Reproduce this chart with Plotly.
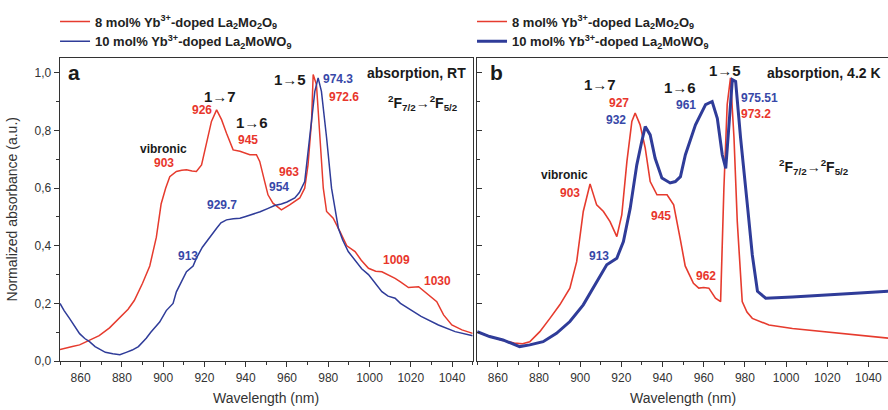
import plotly.graph_objects as go

# ---------------- data ----------------
# Panel a (RT) - 8 mol% Yb3+-doped La2Mo2O9 (red)
wl_a_red = [850, 853, 856, 859.5, 864, 869, 874, 879, 883, 886, 890, 893.5, 896.7, 899, 901.2,
            903.2, 906.4, 909, 911.3, 914, 916.1, 918.6, 921, 923.4, 925.9, 928.3, 930.7, 933.9,
            937.2, 940, 942, 945.2, 946.8, 949.2, 950.8, 953.2, 957.3, 961.3, 966.2, 968.6, 970.2,
            971.9, 972.7, 974.3, 975.9, 977.6, 979.2, 982.4, 985.7, 989, 993, 996, 999.5, 1003,
            1006, 1009, 1012.4, 1015, 1018.9, 1023.8, 1026, 1028.6, 1032.6, 1035.9, 1039.9,
            1044.8, 1050]
abs_a_red = [0.040, 0.044, 0.050, 0.056, 0.070, 0.088, 0.115, 0.150, 0.180, 0.210, 0.270, 0.330,
             0.430, 0.545, 0.600, 0.640, 0.658, 0.662, 0.664, 0.660, 0.658, 0.681, 0.762, 0.832,
             0.872, 0.838, 0.791, 0.733, 0.728, 0.722, 0.716, 0.716, 0.693, 0.623, 0.577, 0.548,
             0.525, 0.542, 0.566, 0.600, 0.681, 0.832, 0.995, 0.959, 0.774, 0.600, 0.519, 0.496,
             0.449, 0.400, 0.380, 0.350, 0.322, 0.312, 0.310, 0.300, 0.287, 0.275, 0.255, 0.258,
             0.245, 0.229, 0.206, 0.160, 0.125, 0.108, 0.096]

# Panel a (RT) - 10 mol% Yb3+-doped La2MoWO9 (blue)
wl_a_blue = [850, 852, 854.6, 857, 859.5, 862, 864.3, 867, 869.2, 872, 875.6, 879, 882.1, 885, 888,
             891.8, 894, 896.7, 898.3, 901.5, 904.8, 906.4, 909, 911.3, 914.5, 916.1, 919, 921,
             923.5, 925.9, 928, 930.7, 934, 937.2, 940, 943.6, 947, 950.9, 954, 957.3, 960, 963.8,
             966, 968.6, 971.1, 973.5, 975.1, 976.7, 979.2, 981.6, 984.9, 987, 989.7, 993, 996.2,
             999.5, 1003, 1006, 1009, 1012.4, 1015, 1018.9, 1025, 1033.4, 1041.5, 1050]
abs_a_blue = [0.200, 0.175, 0.148, 0.120, 0.095, 0.078, 0.067, 0.050, 0.040, 0.030, 0.025, 0.022,
              0.030, 0.038, 0.050, 0.079, 0.100, 0.120, 0.135, 0.175, 0.200, 0.240, 0.280, 0.310,
              0.330, 0.357, 0.395, 0.415, 0.440, 0.461, 0.480, 0.490, 0.494, 0.496, 0.502, 0.510,
              0.518, 0.530, 0.540, 0.545, 0.552, 0.566, 0.585, 0.623, 0.775, 0.936, 0.983, 0.936,
              0.775, 0.600, 0.461, 0.420, 0.380, 0.350, 0.320, 0.300, 0.268, 0.241, 0.225, 0.218,
              0.200, 0.183, 0.155, 0.125, 0.102, 0.088]

# Panel b (4.2 K) - 8 mol% Yb3+-doped La2Mo2O9 (red)
wl_b_red = [850, 856, 862, 868, 872, 875.5, 880.4, 885.3, 890.1, 895, 898.3, 901.5, 904.8, 908,
            911.3, 914.5, 917.8, 920.2, 922.7, 925.1, 926.7, 929.1, 931.6, 934, 937.3, 942.2,
            945.4, 948.7, 951, 953, 955, 957.6, 960, 962.5, 965.7, 968.2, 969.8, 971.4, 973,
            974.7, 976.3, 978.7, 981, 983.6, 991.7, 1003.1, 1019.4, 1035.7, 1050]
abs_b_red = [0.100, 0.085, 0.072, 0.062, 0.060, 0.067, 0.102, 0.148, 0.195, 0.253, 0.345, 0.519,
             0.615, 0.542, 0.519, 0.484, 0.432, 0.507, 0.693, 0.832, 0.861, 0.820, 0.739, 0.623,
             0.577, 0.577, 0.542, 0.420, 0.330, 0.300, 0.270, 0.253, 0.255, 0.253, 0.218, 0.206,
             0.600, 0.890, 0.983, 0.775, 0.484, 0.206, 0.170, 0.148, 0.125, 0.113, 0.102, 0.090,
             0.079]

# Panel b (4.2 K) - 10 mol% Yb3+-doped La2MoWO9 (blue)
wl_b_blue = [850, 856, 862.5, 870.6, 875.5, 882, 888.5, 895, 901.5, 908, 912.9, 917.8, 921, 924.3,
             927.5, 929.9, 931.6, 934, 936.4, 939.7, 943.7, 946.2, 948.7, 951.1, 956, 960.9,
             964.1, 966.6, 969, 970.7, 972.3, 973.9, 975.5, 977.9, 981.2, 983.6, 986.1, 990.1,
             1003.1, 1019.4, 1035.7, 1050]
abs_b_blue = [0.102, 0.085, 0.073, 0.050, 0.056, 0.067, 0.096, 0.137, 0.195, 0.276, 0.334, 0.357,
              0.415, 0.530, 0.681, 0.762, 0.814, 0.785, 0.704, 0.635, 0.618, 0.623, 0.640, 0.716,
              0.820, 0.890, 0.901, 0.843, 0.716, 0.669, 0.832, 0.977, 0.971, 0.775, 0.542, 0.368,
              0.242, 0.218, 0.222, 0.230, 0.236, 0.242]

series_names = ["8 mol% Yb<sup>3+</sup>-doped La<sub>2</sub>Mo<sub>2</sub>O<sub>9</sub>",
                "10 mol% Yb<sup>3+</sup>-doped La<sub>2</sub>MoWO<sub>9</sub>"]

x_tickvals = [860, 880, 900, 920, 940, 960, 980, 1000, 1020, 1040]
x_ticktext = ["860", "880", "900", "920", "940", "960", "980", "1000", "1020", "1040"]
y_tickvals = [0.0, 0.2, 0.4, 0.6, 0.8, 1.0]
y_ticktext = ["0,0", "0,2", "0,4", "0,6", "0,8", "1,0"]

# panel a labels: (text, wavelength, absorbance, colour key, size)
labels_a = [
    ("1→7", 927.4, 0.918, "k", 15), ("926", 918.7, 0.872, "r", 12),
    ("1→6", 943.0, 0.828, "k", 15), ("945", 940.9, 0.767, "r", 12),
    ("vibronic", 900.4, 0.736, "k", 12), ("903", 900.4, 0.689, "r", 12),
    ("963", 961.1, 0.655, "r", 12), ("954", 956.2, 0.604, "b", 12),
    ("929.7", 928.7, 0.542, "b", 12), ("913", 912.0, 0.363, "b", 12),
    ("1→5", 961.7, 0.977, "k", 15), ("974.3", 984.9, 0.980, "b", 12),
    ("972.6", 987.6, 0.917, "r", 12), ("1009", 1013.2, 0.349, "r", 12),
    ("1030", 1032.9, 0.279, "r", 12),
]
labels_b = [
    ("1→7", 909.7, 0.959, "k", 15), ("927", 918.9, 0.896, "r", 12),
    ("932", 917.3, 0.837, "b", 12), ("1→6", 948.7, 0.950, "k", 15),
    ("961", 951.6, 0.890, "b", 12), ("1→5", 970.1, 1.008, "k", 15),
    ("975.51", 986.9, 0.913, "b", 12), ("973.2", 985.3, 0.857, "r", 12),
    ("vibronic", 892.6, 0.647, "k", 12), ("903", 895.0, 0.583, "r", 12),
    ("945", 939.4, 0.504, "r", 12), ("913", 909.3, 0.363, "b", 12),
    ("962", 960.9, 0.296, "r", 12),
]

# ---------------- styling ----------------
RED = "#e63b2e"
BLUE = "#2f3c99"
LRED = "#e8362c"
LBLUE = "#3848a8"
BLACK = "#1a1a1a"
AX = "#333333"
FONT = "Liberation Sans, Arial, sans-serif"
ARROWFONT = "Liberation Sans, DejaVu Sans, sans-serif"
colmap = {"r": LRED, "b": LBLUE, "k": BLACK}

fig = go.Figure()
fig.add_trace(go.Scatter(x=wl_a_red, y=abs_a_red, mode="lines", name=series_names[0],
                         line=dict(color=RED, width=1.5), xaxis="x", yaxis="y", legend="legend"))
fig.add_trace(go.Scatter(x=wl_a_blue, y=abs_a_blue, mode="lines", name=series_names[1],
                         line=dict(color=BLUE, width=1.5), xaxis="x", yaxis="y", legend="legend"))
fig.add_trace(go.Scatter(x=wl_b_red, y=abs_b_red, mode="lines", name=series_names[0],
                         line=dict(color=RED, width=1.6), xaxis="x2", yaxis="y2", legend="legend2"))
fig.add_trace(go.Scatter(x=wl_b_blue, y=abs_b_blue, mode="lines", name=series_names[1],
                         line=dict(color=BLUE, width=3), xaxis="x2", yaxis="y2", legend="legend2"))

YR = [0, 1.052]
XRA = [850, 1050]
XRB = [850, 1049.5]

def xax(domain, rng, anchor, labels=True):
    return dict(domain=domain, range=rng, anchor=anchor, showgrid=False, zeroline=False,
                showline=True, linecolor=AX, linewidth=1.3, mirror=True,
                ticks="outside", ticklen=5, tickwidth=1, tickcolor=AX,
                tickvals=x_tickvals, ticktext=x_ticktext, showticklabels=labels,
                tickfont=dict(family=FONT, size=12, color="#333"),
                minor=dict(ticks="outside", ticklen=3, tickcolor=AX, dtick=10, tick0=850))

def yax(domain, anchor, labels=True, ticks="outside"):
    return dict(domain=domain, range=YR, anchor=anchor, showgrid=False, zeroline=False,
                showline=True, linecolor=AX, linewidth=1.3, mirror=True,
                ticks=ticks, ticklen=5, tickwidth=1, tickcolor=AX,
                tickvals=y_tickvals, ticktext=y_ticktext, showticklabels=labels,
                tickfont=dict(family=FONT, size=12, color="#333"),
                minor=dict(ticks=ticks, ticklen=3, tickcolor=AX, dtick=0.1, tick0=0))

DA = [0, 0.4984]
DB = [0.5039, 1.0]

fig.update_layout(
    width=888, height=410,
    margin=dict(l=60, r=0, t=58, b=49, autoexpand=False),
    paper_bgcolor="white", plot_bgcolor="white",
    font=dict(family=FONT, color="#222"),
    hovermode=False,
    xaxis=xax(DA, XRA, "y"),
    yaxis=yax([0, 1], "x"),
    xaxis2=xax(DB, XRB, "y2"),
    yaxis2=yax([0, 1], "x2", labels=False, ticks="inside"),
    # inward mirror ticks on the top / right borders
    xaxis3=dict(overlaying="x", side="top", anchor="y", range=XRA, showgrid=False, zeroline=False,
                showline=False, ticks="inside", ticklen=5, tickcolor=AX, tickvals=x_tickvals,
                showticklabels=False,
                minor=dict(ticks="inside", ticklen=3, tickcolor=AX, dtick=10, tick0=850)),
    yaxis3=dict(overlaying="y", side="right", anchor="x", range=YR, showgrid=False, zeroline=False,
                showline=False, ticks="inside", ticklen=5, tickcolor=AX, tickvals=y_tickvals,
                showticklabels=False,
                minor=dict(ticks="inside", ticklen=3, tickcolor=AX, dtick=0.1, tick0=0)),
    xaxis4=dict(overlaying="x2", side="top", anchor="y2", range=XRB, showgrid=False, zeroline=False,
                showline=False, ticks="inside", ticklen=5, tickcolor=AX, tickvals=x_tickvals,
                showticklabels=False,
                minor=dict(ticks="inside", ticklen=3, tickcolor=AX, dtick=10, tick0=850)),
    legend=dict(x=-0.006, y=1.17, xanchor="left", yanchor="top", bgcolor="rgba(0,0,0,0)",
                font=dict(family=FONT, size=13, color="#222", weight="bold"),
                tracegroupgap=0, itemwidth=30),
    legend2=dict(x=0.4976, y=1.17, xanchor="left", yanchor="top", bgcolor="rgba(0,0,0,0)",
                 font=dict(family=FONT, size=13, color="#222", weight="bold"),
                 tracegroupgap=0, itemwidth=30),
    showlegend=True,
)

def lab(txt, xv, yv, xr, yr, size, color, family=FONT, **kw):
    d = dict(text=txt, x=xv, y=yv, xref=xr, yref=yr, showarrow=False,
             xanchor="center", yanchor="middle",
             font=dict(family=family, size=size, color=color))
    d.update(kw)
    return d

ann = []
for txt, xv, yv, c, s in labels_a:
    ann.append(lab(f"<b>{txt}</b>", xv, yv, "x", "y", s, colmap[c],
                   ARROWFONT if "→" in txt else FONT))
for txt, xv, yv, c, s in labels_b:
    ann.append(lab(f"<b>{txt}</b>", xv, yv, "x2", "y2", s, colmap[c],
                   ARROWFONT if "→" in txt else FONT))

FTXT = "<b><sup>2</sup>F<sub>7/2</sub>→<sup>2</sup>F<sub>5/2</sub></b>"
ann += [
    lab("<b>a</b>", 857, 1.0, "x", "y", 21, BLACK),
    lab("<b>b</b>", 859.3, 1.003, "x2", "y2", 21, BLACK),
    lab("<b>absorption, RT</b>", 1022.9, 1.0, "x", "y", 14, BLACK),
    lab("<b>absorption, 4.2 K</b>", 1018.6, 1.0, "x2", "y2", 14, BLACK),
    lab(FTXT, 1025.8, 0.896, "x", "y", 14, BLACK, ARROWFONT),
    lab(FTXT, 1013.7, 0.675, "x2", "y2", 14, BLACK, ARROWFONT),
    # axis titles
    lab("Wavelength (nm)", 0.5, -0.122, "x domain", "paper", 14, "#333"),
    lab("Wavelength (nm)", 0.5, -0.122, "x2 domain", "paper", 14, "#333"),
    lab("Normalized absorbance (a.u.)", -0.058, 0.5, "paper", "paper", 14, "#333", textangle=-90),
]
fig.update_layout(annotations=ann)

fig.write_html("out.html", config={"displayModeBar": False, "staticPlot": True},
               post_script="document.body.style.margin='0';document.body.style.padding='0';")
